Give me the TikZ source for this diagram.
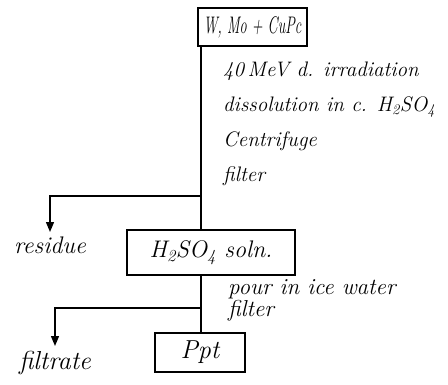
\documentclass[tikz,border=0pt]{standalone}
\usepackage{graphicx}
\usepackage{tikz}
\usetikzlibrary{arrows.meta, positioning}

\begin{document}
\begin{tikzpicture}[
        x=1pt, y=1pt,
        block/.style={rectangle, draw=black, line width=1.3pt, inner sep=0pt, font=\itshape\fontsize{#1}{#1}\selectfont},
        block/.default=22,
        note/.style 2 args={inner sep=0pt, align=left, anchor=north west, font=\itshape\fontsize{#1}{#2}\selectfont},
        outlbl/.style={inner sep=5pt, anchor=north, font=\itshape\fontsize{#1}{#1}\selectfont},
        outlbl/.default=24,
        link/.style={line width=1.3pt, draw=black},
        arr/.style={-{Triangle[length=10pt, width=8pt]}, line width=1.3pt, draw=black}
    ]
        \useasboundingbox (0,0) rectangle (448,-384);

        \node[block=24, minimum width=109pt, minimum height=38pt] (sample) at (252.5,-27) {\scalebox{0.6}[1]{W, Mo + CuPc}};
        \node[block=24, minimum width=168pt, minimum height=45pt] (soln) at (211,-252.5) {H\textsubscript{2}SO\textsubscript{4} soln.};
        \node[block=26, minimum width=90pt, minimum height=39pt] (ppt) at (200,-352.5) {Ppt};

        \coordinate (fork1) at (201,-196);
        \coordinate (fork2) at (201,-308);

        \node[outlbl] (residue) at (50,-232) {residue};
        \node[outlbl=26] (filtrate) at (55,-346) {filtrate};

        \node[note={21}{35}] (steps1) at (223,-62) {40\,MeV d. irradiation\\dissolution in c. H\textsubscript{2}SO\textsubscript{4}\\Centrifuge\\filter};
        \node[note={23}{22}] (steps2) at (228,-279) {pour in ice water\\filter};

        \draw[link] (sample.south -| fork1) -- (soln.north -| fork1);
        \draw[arr] (fork1) -| (residue);
        \draw[link] (soln.south -| fork2) -- (ppt.north -| fork2);
        \draw[arr] (fork2) -| (filtrate);
    \end{tikzpicture}
\end{document}
